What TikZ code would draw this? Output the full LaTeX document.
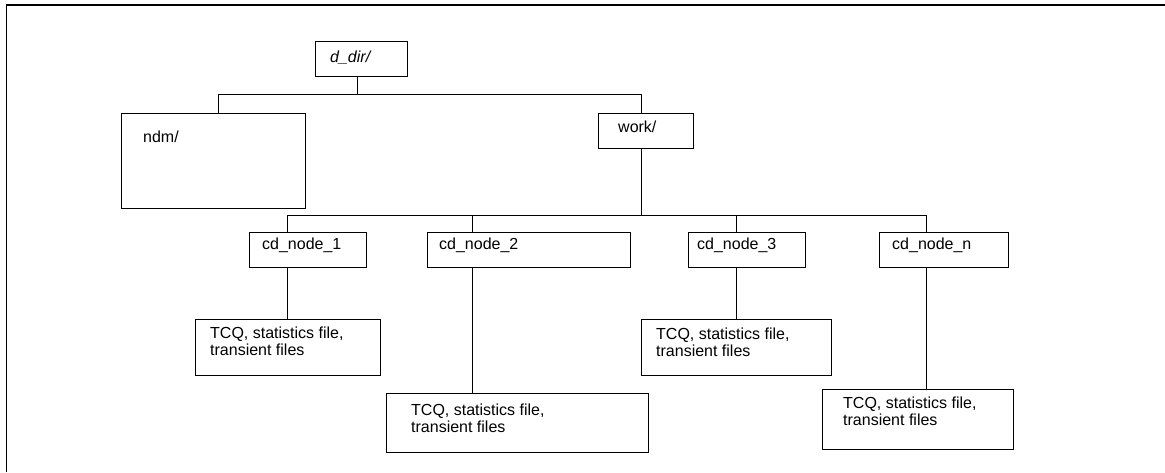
\documentclass[tikz,border=0pt]{standalone}
\usepackage{fontspec}
\setmainfont{Liberation Sans}
\usetikzlibrary{positioning}

\begin{document}
\begin{tikzpicture}[
    x=1pt, y=-1pt,
    dirbox/.style={draw, rectangle, anchor=north west, inner sep=0pt, line width=0.8pt},
    boxtext/.style={anchor=north west, inner sep=0pt, align=left, font=\fontsize{16}{17}\selectfont},
    link/.style={line width=0.8pt},
]
    \useasboundingbox (0,0) rectangle (1165,472);
    % Frame
    \draw[line width=1.3pt] (6.5,472) -- (6.5,5) -- (1165,5);

    % Boxes
    \node[dirbox, minimum width=92, minimum height=35] (ddir) at (315,41) {};
    \node[dirbox, minimum width=184, minimum height=95] (ndm) at (121,113) {};
    \node[dirbox, minimum width=95, minimum height=35] (work) at (598,113) {};
    \node[dirbox, minimum width=117, minimum height=35] (cd1) at (249,232) {};
    \node[dirbox, minimum width=203, minimum height=35] (cd2) at (427,232) {};
    \node[dirbox, minimum width=117, minimum height=35] (cd3) at (688,232) {};
    \node[dirbox, minimum width=129, minimum height=35] (cdn) at (879,232) {};
    \node[dirbox, minimum width=185, minimum height=56] (tcq1) at (195,319) {};
    \node[dirbox, minimum width=262, minimum height=59] (tcq2) at (386,393) {};
    \node[dirbox, minimum width=190, minimum height=56] (tcq3) at (641,319) {};
    \node[dirbox, minimum width=191, minimum height=60] (tcqn) at (822,389) {};

    % Texts
    \node[boxtext, below right=10pt and 15pt of ddir.north west] (ddir-t) {\textit{d\_dir/}};
    \node[boxtext, below right=18pt and 22pt of ndm.north west] (ndm-t) {ndm/};
    \node[boxtext, below right=8pt and 20pt of work.north west] (work-t) {work/};
    \node[boxtext, below right=6pt and 13pt of cd1.north west] (cd1-t) {cd\_node\_1};
    \node[boxtext, below right=6pt and 12pt of cd2.north west] (cd2-t) {cd\_node\_2};
    \node[boxtext, below right=6pt and 9pt of cd3.north west] (cd3-t) {cd\_node\_3};
    \node[boxtext, below right=6pt and 13pt of cdn.north west] (cdn-t) {cd\_node\_n};
    \node[boxtext, below right=8pt and 15pt of tcq1.north west] (tcq1-t) {TCQ, statistics file,\\transient files};
    \node[boxtext, below right=11pt and 25pt of tcq2.north west] (tcq2-t) {TCQ, statistics file,\\transient files};
    \node[boxtext, below right=9pt and 15pt of tcq3.north west] (tcq3-t) {TCQ, statistics file,\\transient files};
    \node[boxtext, below right=8pt and 21pt of tcqn.north west] (tcqn-t) {TCQ, statistics file,\\transient files};

    % Tree lines
    \coordinate (b0) at (357,94);
    \coordinate (bl) at (218,94);
    \coordinate (br) at (641,94);
    \coordinate (c1) at (287,215);
    \coordinate (c2) at (472,215);
    \coordinate (c3) at (736,215);
    \coordinate (cn) at (926,215);

    \draw[link] (b0 |- ddir.south) -- (b0);
    \draw[link] (bl |- ndm.north) -- (bl) -- (br) -- (br |- work.north);
    \draw[link] (br |- work.south) -- (br |- c1);
    \draw[link] (c1) -- (cn);
    \foreach \i in {1,2,3,n} {
        \draw[link] (c\i) -- (c\i |- cd\i.north);
        \draw[link] (c\i |- cd\i.south) -- (c\i |- tcq\i.north);
    }
\end{tikzpicture}
\end{document}
